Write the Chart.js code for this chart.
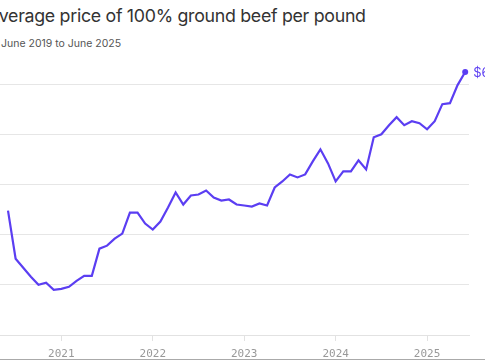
<!DOCTYPE html>
<html>
<head>
<meta charset="utf-8">
<script src="https://cdn.jsdelivr.net/npm/chart.js@4.4.1/dist/chart.umd.min.js"></script>
<style>
  html, body { margin: 0; padding: 0; background: #fff; }
  body { width: 485px; height: 360px; position: relative; overflow: hidden; }
  #title { position: absolute; left: -12px; top: 5px; font-family: Inter, sans-serif; font-size: 17.8px; color: #333; white-space: nowrap; letter-spacing: -0.3px; }
  #sub { position: absolute; left: 1px; top: 37px; font-family: Inter, sans-serif; font-size: 10.5px; color: #555; white-space: nowrap; }
  #wrap { position: absolute; left: 0; top: 0; width: 485px; height: 359px; }
  #edge { position: absolute; left: 0; top: 359px; width: 485px; height: 1px; background: #aaa; }
</style>
</head>
<body>
<div id="title">Average price of 100% ground beef per pound</div>
<div id="sub">June 2019 to June 2025</div>
<div id="wrap"><canvas id="myChart"></canvas></div>
<div id="edge"></div>
<script>
// monthly, June 2020 .. June 2025 (dollars per pound)
const months = [
  'Jun 2020','Jul 2020','Aug 2020','Sep 2020','Oct 2020','Nov 2020','Dec 2020',
  'Jan 2021','Feb 2021','Mar 2021','Apr 2021','May 2021','Jun 2021','Jul 2021','Aug 2021','Sep 2021','Oct 2021','Nov 2021','Dec 2021',
  'Jan 2022','Feb 2022','Mar 2022','Apr 2022','May 2022','Jun 2022','Jul 2022','Aug 2022','Sep 2022','Oct 2022','Nov 2022','Dec 2022',
  'Jan 2023','Feb 2023','Mar 2023','Apr 2023','May 2023','Jun 2023','Jul 2023','Aug 2023','Sep 2023','Oct 2023','Nov 2023','Dec 2023',
  'Jan 2024','Feb 2024','Mar 2024','Apr 2024','May 2024','Jun 2024','Jul 2024','Aug 2024','Sep 2024','Oct 2024','Nov 2024','Dec 2024',
  'Jan 2025','Feb 2025','Mar 2025','Apr 2025','May 2025','Jun 2025'
];
const prices = [
  4.74, 4.26, 4.17, 4.08, 4.00, 4.02, 3.95,
  3.96, 3.98, 4.04, 4.09, 4.09, 4.36, 4.39, 4.46, 4.51, 4.72, 4.72, 4.61,
  4.55, 4.63, 4.77, 4.92, 4.80, 4.89, 4.90, 4.94, 4.87, 4.84, 4.85, 4.80,
  4.79, 4.78, 4.81, 4.79, 4.97, 5.03, 5.10, 5.07, 5.10, 5.23, 5.35, 5.21,
  5.03, 5.13, 5.13, 5.24, 5.15, 5.47, 5.50, 5.59, 5.67, 5.59, 5.63, 5.61,
  5.55, 5.63, 5.80, 5.81, 5.99, 6.12
];
const yearTicks = [7, 19, 31, 43, 55];
const yearLabels = ['2021', '2022', '2023', '2024', '2025'];
const priceTicks = [3.5, 4, 4.5, 5, 5.5, 6];

const purple = '#5b3ef2';

const endLabel = {
  id: 'endLabel',
  afterDatasetsDraw(chart) {
    const meta = chart.getDatasetMeta(0);
    const last = meta.data[meta.data.length - 1];
    const ctx = chart.ctx;
    ctx.save();
    ctx.fillStyle = purple;
    ctx.beginPath();
    ctx.arc(last.x, last.y, 3, 0, Math.PI * 2);
    ctx.fill();
    ctx.font = '13px Inter, sans-serif';
    ctx.textBaseline = 'middle';
    ctx.fillText('$' + prices[prices.length - 1].toFixed(2), last.x + 8, last.y + 1);
    ctx.restore();
  }
};

const ctx = document.getElementById('myChart').getContext('2d');
const chart = new Chart(ctx, {
  type: 'line',
  data: {
    labels: months,
    datasets: [{
      data: prices.map((p, i) => ({ x: i, y: p })),
      borderColor: purple,
      borderWidth: 2.2,
      pointRadius: 0,
      tension: 0,
      clip: false
    }]
  },
  plugins: [endLabel],
  options: {
    responsive: true,
    maintainAspectRatio: false,
    animation: false,
    layout: { padding: { left: 0, right: 16, top: 59, bottom: 0 } },
    plugins: { legend: { display: false }, tooltip: { enabled: false } },
    scales: {
      x: {
        type: 'linear',
        min: -1.05,
        max: 60.5,
        afterBuildTicks(scale) { scale.ticks = yearTicks.map(v => ({ value: v })); },
        afterFit(scale) { scale.height = 24; },
        ticks: {
          autoSkip: false,
          maxRotation: 0,
          padding: 7,
          color: '#999',
          font: { family: 'DejaVu Sans Mono', size: 11 },
          callback: (v) => yearLabels[yearTicks.indexOf(v)]
        },
        grid: { drawOnChartArea: false, tickLength: 6, color: '#e2e2e2' },
        border: { color: '#e2e2e2' }
      },
      y: {
        min: 3.5,
        max: 6.25,
        afterBuildTicks(scale) { scale.ticks = priceTicks.map(v => ({ value: v })); },
        ticks: { display: false },
        grid: { drawTicks: false, color: '#e6e6e6' },
        border: { display: false }
      }
    }
  }
});
</script>
</body>
</html>
